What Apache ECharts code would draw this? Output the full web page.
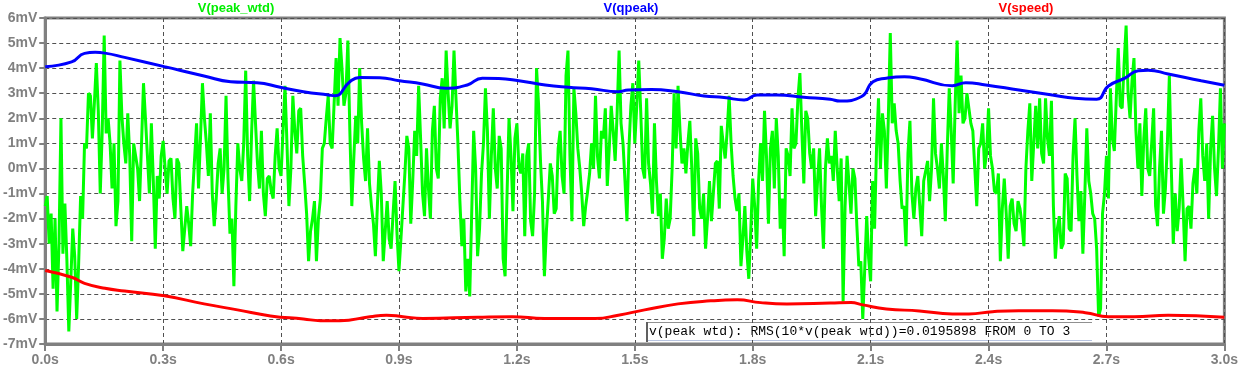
<!DOCTYPE html>
<html><head><meta charset="utf-8">
<script src="https://cdn.jsdelivr.net/npm/echarts@6/dist/echarts.min.js"></script>
<style>html,body{margin:0;padding:0;background:#fff}#c{width:1241px;height:370px}</style>
</head><body><div id="c"></div>
<script>
// ---- data ----
const seriesNames = ['V(peak_wtd)', 'V(qpeak)', 'V(speed)'];
const xTickLabels = ['0.0s','0.3s','0.6s','0.9s','1.2s','1.5s','1.8s','2.1s','2.4s','2.7s','3.0s'];
const yTickLabels = ['-7mV','-6mV','-5mV','-4mV','-3mV','-2mV','-1mV','0mV','1mV','2mV','3mV','4mV','5mV','6mV'];

// V(peak_wtd): samples read every 10 ms (0 .. 3 s), in mV
const greenStep = 0.01;
const greenValues = [
  -1.5, -3.0, -4.8, -5.7, 2.0, -1.4, -6.5, -2.4, -6.0, -1.1,
  1.0, 3.0, 1.2, 4.2, -1.0, 5.3, 2.0, -0.8, -2.3, 4.3,
  1.0, 2.2, -2.9, 0.5, -1.3, 3.4, 0.5, 1.8, -3.2, -1.2,
  1.1, -1.0, 0.4, -2.0, 0.2, -3.3, -1.5, -3.1, 0.4, -0.8,
  3.4, 1.0, 2.2, -2.3, 0.2, -1.0, 2.9, -2.6, -4.7, 1.0,
  -0.5, 3.9, -1.3, 3.5, 0.2, 1.5, -1.9, -0.3, -1.2, 1.6,
  -0.3, 3.3, -1.5, 2.9, 0.6, 2.4, -0.6, -3.7, -2.0, -3.7,
  -1.2, 1.0, 2.9, 0.8, 4.4, 5.2, 2.5, 5.1, -1.5, 2.1,
  4.0, 0.4, 1.6, -1.5, -3.5, 0.3, -3.7, -1.3, -3.2, -0.5,
  -4.1, -1.5, 1.3, -2.2, 1.5, 3.3, -1.0, 0.8, -2.0, 2.5,
  -0.4, 3.6, 4.7, 1.6, 4.7, 1.0, -3.1, -4.9, -5.1, 1.5,
  -3.5, -0.2, 3.2, -2.0, 2.4, -0.8, 0.8, -4.3, 2.0, -1.7,
  1.8, -0.2, -2.7, 1.0, -2.7, 4.0, 0.3, -4.3, -1.2, -0.3,
  -1.6, 1.5, -1.0, 4.7, -2.1, 2.2, 0.0, -2.3, -0.9, 1.0,
  2.9, -0.4, 1.2, -0.7, 2.5, 0.3, 4.7, 1.0, -2.1, 2.5,
  1.0, 4.3, 0.0, 2.8, -0.6, 1.8, -1.9, -3.6, -1.2, -2.0,
  3.0, 3.3, 0.2, -0.2, 1.9, -2.7, 0.6, -2.0, -3.2, -0.5,
  -2.1, 0.3, 1.7, 0.4, 2.9, -0.3, -1.7, -3.9, -1.5, -4.4,
  -0.4, -3.2, 1.0, 2.3, -2.2, 1.5, 2.0, -2.4, -3.5, 0.5,
  2.4, 1.0, 3.8, -0.6, 2.0, 0.0, -1.9, 0.8, -3.2, 1.2,
  0.5, 1.5, -1.3, -5.3, 0.5, -1.8, -0.4, -3.9, -6.0, -1.9,
  -4.5, -2.4, 2.8, 2.2, -0.8, 5.4, 2.6, 1.0, -1.6, -3.1,
  1.9, -2.0, -0.3, -2.7, -0.5, -1.3, 2.8, 0.0, 1.0, -2.1,
  3.2, -0.6, 5.1, 3.7, 2.0, 3.0, 1.5, -1.5, 1.0, 0.0,
  2.4, 0.0, -1.0, -3.7, -0.4, -3.6, -1.2, -2.5, -1.6, -3.1,
  1.5, -0.5, 2.5, 2.8, 0.2, 1.2, 2.7, -3.6, -1.9, -3.0,
  -0.4, -2.5, 2.0, -2.1, -3.4, 1.6, -1.0, -2.0, -5.9, -1.8,
  0.5, 3.2, 0.7, 4.8, 2.4, 5.7, 2.0, 4.4, 0.0, -1.1,
  2.4, -0.3, 2.4, -2.3, 1.5, -0.8, 3.7, -3.0, -2.5, 0.4,
  -3.7, -1.5, -0.6, -1.0, 2.8, -0.5, -2.0, 2.1, -1.1, 3.2,
  1.8
];
// V(peak_wtd): samples read half-way between the ones above (t = k*10 ms + 5 ms), in mV
const greenMidValues = [
  -1.1, -1.8, -2.0, -3.0, -3.4, -3.6, -4.5, -3.5, -3.8, -2.0,
  0.8, 2.9, 2.6, 2.3, 1.5, 1.4, 1.0, 1.0, -1.3, 2.1,
  0.2, 0.5, 1.0, 0.0, 1.0, 2.0, -1.0, -0.5, -0.3, 0.5,
  0.0, 0.3, -1.2, 0.4, -1.6, -2.4, -2.2, -1.0, 1.8, 1.2,
  2.0, -0.3, -1.0, -1.2, 0.8, 0.0, -0.4, -2.0, -1.5, 0.0,
  1.0, 0.5, 1.4, 1.8, -0.8, -1.0, -0.4, -0.9, 0.5, 0.0,
  1.5, 1.0, 0.0, 1.5, 2.3, 0.5, -1.8, -2.5, -1.3, -2.0,
  0.8, 2.0, 1.0, 2.6, 2.5, 4.0, 3.0, 1.5, 0.4, 1.0,
  1.8, -0.5, -0.6, -2.2, -1.5, -1.0, -2.5, -2.8, -1.8, -2.6,
  -2.8, -0.2, 0.8, -0.5, 0.5, 1.2, -1.9, -0.8, 1.5, 0.0,
  2.8, 1.6, 3.0, 2.5, 2.8, -1.3, -2.0, -3.6, -1.8, 0.0,
  -2.4, 1.0, 1.5, 0.5, 0.0, 1.3, -3.6, -1.0, 0.5, 1.2,
  0.1, 0.6, 0.5, -2.1, -1.0, 2.6, -1.3, -2.5, 0.2, -1.8,
  0.8, -0.3, 3.7, 0.5, 3.2, 0.8, -1.0, -1.5, -0.2, 0.0,
  0.5, 1.5, 2.4, 0.8, 1.5, 2.2, 1.8, -0.5, 0.8, 3.4,
  2.5, 2.3, -0.4, 0.2, -1.8, -0.5, -1.0, -2.8, -2.4, 0.0,
  0.8, 1.5, 0.8, 1.0, 0.0, 1.2, -1.6, -1.0, -2.0, -2.1,
  0.2, -1.6, 1.0, 1.5, 1.0, -1.2, -1.0, -2.8, -3.3, -2.5,
  -1.5, -0.5, -0.5, 0.5, 0.8, -0.8, 0.5, -1.2, 0.8, -0.3,
  0.8, 2.8, 1.5, 2.3, 0.6, 0.8, -0.5, -1.5, 0.0, 0.2,
  -0.5, 0.0, 0.4, -1.5, -0.6, 0.0, -2.3, -3.7, -4.0, -3.6,
  -0.5, 0.8, 0.0, 1.5, 2.0, 1.8, 1.5, -0.5, -1.5, 0.6,
  -1.0, -0.8, -1.5, -0.5, 0.3, 0.0, 0.6, -0.8, -0.3, 0.8,
  1.5, 2.5, 2.2, 1.8, 3.0, 1.8, 0.0, 0.8, 1.8, 0.6,
  0.5, -0.9, -0.2, -1.6, -1.8, -1.5, -2.2, -1.3, -2.2, 0.0,
  2.6, 1.0, 0.8, 0.6, 2.8, 0.5, -1.5, -2.4, -3.2, -0.2,
  -2.4, 0.5, -0.3, -0.9, -1.0, -0.5, -1.8, -3.2, -5.6, -1.0,
  -1.2, 1.2, 2.8, 2.5, 4.2, 3.0, 3.5, 1.5, 1.8, 1.2,
  0.0, 1.0, -1.5, 0.0, -1.8, 1.0, 0.0, -1.0, -1.6, -1.5,
  -1.6, -2.4, 0.0, 1.5, 0.5, 1.0, 0.8, 0.0, 0.8, 0.0
];

// V(qpeak)
const blueTimes = [0, 0.067, 0.1, 0.127, 0.152, 0.202, 0.303, 0.404, 0.472, 0.539, 0.598, 0.657, 0.72, 0.737, 0.775, 0.8, 0.851, 0.901, 0.96, 1.019, 1.074, 1.112, 1.154, 1.205, 1.272, 1.331, 1.39, 1.458, 1.483, 1.542, 1.61, 1.676, 1.727, 1.778, 1.811, 1.862, 1.93, 1.997, 2.022, 2.077, 2.106, 2.14, 2.186, 2.224, 2.308, 2.342, 2.393, 2.477, 2.562, 2.62, 2.675, 2.705, 2.747, 2.781, 2.806, 2.857, 2.941, 3.0];
const blueValues = [4.06, 4.25, 4.59, 4.63, 4.60, 4.43, 4.06, 3.69, 3.46, 3.42, 3.24, 3.06, 2.93, 2.90, 3.46, 3.63, 3.62, 3.50, 3.37, 3.20, 3.33, 3.60, 3.59, 3.50, 3.33, 3.24, 3.18, 3.06, 3.13, 3.15, 3.06, 2.89, 2.83, 2.73, 2.93, 2.93, 2.84, 2.76, 2.69, 2.87, 3.46, 3.60, 3.66, 3.58, 3.30, 3.42, 3.33, 3.13, 2.93, 2.80, 2.76, 3.29, 3.60, 3.90, 3.92, 3.77, 3.50, 3.32];

// V(speed)
const redTimes = [0, 0.067, 0.1, 0.152, 0.202, 0.303, 0.404, 0.489, 0.573, 0.657, 0.70, 0.75, 0.826, 0.868, 0.91, 0.96, 1.1, 1.188, 1.27, 1.40, 1.458, 1.525, 1.61, 1.693, 1.761, 1.82, 1.887, 1.997, 2.05, 2.08, 2.14, 2.224, 2.308, 2.35, 2.41, 2.477, 2.562, 2.646, 2.705, 2.77, 2.857, 3.0];
const redValues = [-4.07, -4.34, -4.58, -4.78, -4.89, -5.08, -5.40, -5.64, -5.88, -6.00, -6.07, -6.07, -5.91, -5.85, -5.91, -5.98, -5.93, -5.91, -5.98, -5.98, -5.85, -5.64, -5.40, -5.28, -5.24, -5.35, -5.40, -5.37, -5.35, -5.44, -5.60, -5.68, -5.80, -5.80, -5.71, -5.67, -5.67, -5.75, -5.91, -5.91, -5.85, -5.93];

const annotationText = 'v(peak wtd): RMS(10*v(peak wtd))=0.0195898 FROM 0 TO 3';

// ---- build ----
const greenData = [];
greenValues.forEach((v, i) => {
  greenData.push([+(i * greenStep).toFixed(4), v]);
  if (i < greenMidValues.length) greenData.push([+(i * greenStep + greenStep / 2).toFixed(4), greenMidValues[i]]);
});
const blueData = blueTimes.map((t, i) => [t, blueValues[i]]);
const redData = redTimes.map((t, i) => [t, redValues[i]]);

const GRAY = '#808080';
const chart = echarts.init(document.getElementById('c'), null, {renderer: 'canvas'});
chart.setOption({
  animation: false,
  backgroundColor: '#ffffff',
  grid: {left: 40, right: 14, top: 18, bottom: 26, show: true, borderColor: GRAY, borderWidth: 3, containLabel: false},
  xAxis: {
    type: 'value', min: 0, max: 3, interval: 0.3,
    axisLine: {show: true, onZero: false, lineStyle: {color: GRAY, width: 3}},
    axisTick: {show: true, length: 7, lineStyle: {color: GRAY, width: 2}},
    axisLabel: {color: GRAY, fontSize: 14, fontWeight: 'bold', fontFamily: 'Liberation Sans, Arial, sans-serif', margin: 9,
      showMinLabel: true, showMaxLabel: true, hideOverlap: false,
      formatter: v => xTickLabels[Math.round(v / 0.3)]},
    splitLine: {show: true, lineStyle: {color: '#505050', type: [4, 3], width: 1}}
  },
  yAxis: {
    type: 'value', min: -7, max: 6, interval: 1,
    axisLine: {show: true, onZero: false, lineStyle: {color: GRAY, width: 3}},
    axisTick: {show: true, length: 6, lineStyle: {color: GRAY, width: 2}},
    axisLabel: {color: GRAY, fontSize: 14, fontWeight: 'bold', fontFamily: 'Liberation Sans, Arial, sans-serif', margin: 8,
      showMinLabel: true, showMaxLabel: true, hideOverlap: false,
      formatter: v => yTickLabels[Math.round(v + 7)]},
    splitLine: {show: true, lineStyle: {color: '#505050', type: [4, 3], width: 1}}
  },
  series: [
    {name: seriesNames[0], type: 'line', data: greenData, showSymbol: false, smooth: false,
      lineStyle: {color: '#00ff00', width: 3}, itemStyle: {color: '#00ff00'}, z: 2},
    {name: seriesNames[1], type: 'line', data: blueData, showSymbol: false, smooth: true,
      lineStyle: {color: '#0000ff', width: 3}, itemStyle: {color: '#0000ff'}, z: 3},
    {name: seriesNames[2], type: 'line', data: redData, showSymbol: false, smooth: true,
      lineStyle: {color: '#ff0000', width: 3}, itemStyle: {color: '#ff0000'}, z: 4}
  ],
  graphic: [
    {type: 'text', x: 236, y: 8, style: {text: seriesNames[0], fill: '#00ee00', font: 'bold 13px "Liberation Sans", Arial, sans-serif', align: 'center', verticalAlign: 'middle'}},
    {type: 'text', x: 631, y: 8, style: {text: seriesNames[1], fill: '#0000ff', font: 'bold 13px "Liberation Sans", Arial, sans-serif', align: 'center', verticalAlign: 'middle'}},
    {type: 'text', x: 1026, y: 8, style: {text: seriesNames[2], fill: '#ff0000', font: 'bold 13px "Liberation Sans", Arial, sans-serif', align: 'center', verticalAlign: 'middle'}},
    {type: 'rect', shape: {x: 646, y: 322, width: 446, height: 19}, style: {fill: '#ffffff', stroke: null}},
    {type: 'line', shape: {x1: 646, y1: 322.5, x2: 1092, y2: 322.5}, style: {stroke: '#909090', lineWidth: 1}},
    {type: 'line', shape: {x1: 647, y1: 322, x2: 647, y2: 342}, style: {stroke: '#606060', lineWidth: 2}},
    {type: 'line', shape: {x1: 648, y1: 340.5, x2: 1092, y2: 340.5}, style: {stroke: '#b8c4e0', lineWidth: 1}},
    {type: 'text', x: 649, y: 332, style: {text: annotationText, fill: '#000000', font: '13px "Liberation Mono", "DejaVu Sans Mono", monospace', align: 'left', verticalAlign: 'middle'}}
  ]
});
</script>
</body></html>
